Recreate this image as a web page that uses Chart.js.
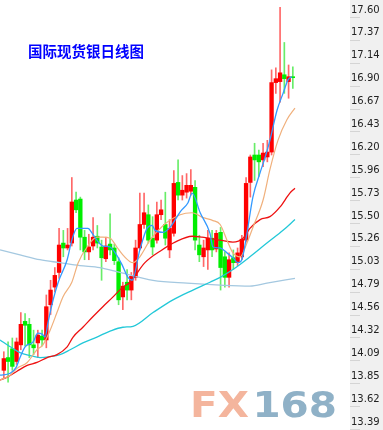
<!DOCTYPE html>
<html>
<head>
<meta charset="utf-8">
<script src="https://cdn.jsdelivr.net/npm/chart.js@4.4.0/dist/chart.umd.min.js"></script>
<style>
    html, body { margin: 0; padding: 0; background: #fff; }
</style>
</head>
<body>
<canvas id="kline" width="383" height="430"></canvas>
<script>
const chartTitle = '国际现货银日线图';

// right axis labels, top to bottom
const tickLabels = ['17.60', '17.37', '17.14', '16.90', '16.67', '16.43', '16.20', '15.96', '15.73', '15.50',
    '15.26', '15.03', '14.79', '14.56', '14.32', '14.09', '13.85', '13.62', '13.39'];

// daily candles, oldest first
const openP = [14.00, 14.13, 14.22, 14.09, 14.26, 14.50, 14.47, 14.26, 14.28, 14.35,
    14.31, 14.67, 14.85, 15.00, 15.30, 15.25, 15.30, 15.74, 15.75, 15.36,
    15.21, 15.27, 15.37, 15.26, 15.14, 15.29, 15.25, 15.11, 14.75, 14.90,
    14.82, 14.95, 15.25, 15.49, 15.59, 15.35, 15.33, 15.59, 15.49, 15.23,
    15.40, 15.92, 15.79, 15.82, 15.83, 15.87, 15.28, 15.16, 15.23, 15.35,
    15.24, 15.41, 15.16, 14.95, 15.15, 15.10, 15.16, 15.33, 15.92, 16.20,
    16.20, 16.15, 16.18, 16.23, 16.94, 16.95, 17.02, 16.95, 17.00];
const highP = [14.19, 14.29, 14.33, 14.33, 14.59, 14.58, 14.53, 14.41, 14.41, 14.41,
    14.77, 14.92, 15.05, 15.45, 15.43, 15.45, 15.97, 15.82, 15.77, 15.43,
    15.39, 15.56, 15.48, 15.33, 15.36, 15.60, 15.29, 15.15, 14.90, 15.03,
    15.00, 15.33, 15.81, 15.81, 15.69, 15.57, 15.72, 15.74, 15.82, 15.54,
    16.04, 16.15, 15.99, 16.01, 16.05, 15.94, 15.38, 15.33, 15.43, 15.43,
    15.43, 15.46, 15.21, 15.20, 15.23, 15.25, 15.38, 15.97, 16.20, 16.32,
    16.25, 16.32, 16.35, 17.07, 17.09, 17.71, 17.35, 17.12, 17.10];
const lowP = [13.92, 13.88, 14.00, 14.06, 14.21, 14.25, 14.13, 14.16, 14.13, 14.25,
    14.23, 14.57, 14.80, 14.94, 15.16, 15.23, 15.27, 15.61, 15.23, 15.13,
    15.13, 15.23, 15.25, 14.92, 15.11, 15.18, 15.08, 14.67, 14.62, 14.72,
    14.72, 14.92, 15.23, 15.45, 15.30, 15.18, 15.30, 15.54, 15.28, 15.15,
    15.37, 15.74, 15.74, 15.76, 15.79, 15.23, 15.11, 15.06, 15.03, 15.16,
    15.21, 14.82, 14.85, 14.85, 15.03, 15.07, 15.13, 15.31, 15.77, 15.94,
    15.98, 16.08, 16.13, 16.20, 16.83, 16.74, 16.83, 16.78, 16.88];
const closeP = [14.12, 14.09, 14.04, 14.29, 14.47, 14.46, 14.26, 14.23, 14.36, 14.31,
    14.65, 14.82, 14.97, 15.28, 15.25, 15.28, 15.72, 15.64, 15.36, 15.21,
    15.26, 15.36, 15.30, 15.15, 15.27, 15.23, 15.12, 14.72, 14.86, 14.82,
    14.96, 15.25, 15.49, 15.61, 15.33, 15.26, 15.59, 15.64, 15.35, 15.45,
    15.91, 15.79, 15.84, 15.89, 15.89, 15.33, 15.18, 15.25, 15.35, 15.23,
    15.40, 15.05, 14.95, 15.13, 15.10, 15.20, 15.34, 15.91, 16.18, 16.15,
    16.13, 16.22, 16.23, 16.94, 16.98, 17.04, 16.98, 17.00, 16.99];

// moving averages: [candle position, price]
const ma5 = [[-0.9, 13.95], [1.5, 13.97], [2.9, 14.03], [3.8, 14.13], [5.0, 14.24], [6.9, 14.29], [8.0, 14.38],
    [9.0, 14.37], [9.7, 14.34], [10.4, 14.49], [11.6, 14.72], [12.8, 14.90], [14.9, 15.13], [16.0, 15.33],
    [17.2, 15.45], [19.8, 15.45], [20.8, 15.40], [21.9, 15.33], [23.3, 15.27], [25.0, 15.26], [26.2, 15.20],
    [27.8, 15.08], [29.2, 14.95], [30.2, 14.92], [32.0, 15.23], [33.7, 15.45], [34.9, 15.48], [35.6, 15.43],
    [37.5, 15.41], [39.1, 15.46], [41.5, 15.62], [43.3, 15.71], [44.3, 15.81], [46.2, 15.61], [48.5, 15.40],
    [49.2, 15.26], [50.9, 15.25], [52.5, 15.20], [53.9, 15.15], [55.1, 15.10], [56.0, 15.13], [57.2, 15.40],
    [58.6, 15.77], [60.3, 16.02], [61.5, 16.18], [62.6, 16.35], [64.3, 16.66], [65.7, 16.83], [66.9, 16.97],
    [67.8, 17.00]];
const ma10 = [[-0.9, 13.90], [1.5, 13.95], [3.1, 14.02], [5.5, 14.08], [7.8, 14.21], [9.2, 14.26], [10.9, 14.41],
    [12.5, 14.59], [13.9, 14.75], [16.0, 14.90], [17.5, 15.10], [19.6, 15.26], [21.9, 15.36], [23.3, 15.36],
    [25.0, 15.35], [26.6, 15.26], [28.0, 15.18], [29.7, 15.11], [30.4, 15.10], [32.0, 15.16], [34.4, 15.33],
    [37.5, 15.48], [41.5, 15.59], [44.3, 15.61], [46.9, 15.56], [49.2, 15.53], [50.9, 15.49], [52.5, 15.33],
    [53.9, 15.20], [55.6, 15.16], [57.2, 15.30], [58.6, 15.46], [61.0, 15.74], [62.6, 16.05], [64.5, 16.35],
    [66.6, 16.56], [68.5, 16.68]];
const ma20 = [[-0.9, 13.90], [0.8, 13.93], [3.1, 13.99], [5.5, 14.05], [7.8, 14.08], [10.2, 14.13], [12.5, 14.16],
    [14.9, 14.24], [16.3, 14.34], [18.6, 14.44], [21.0, 14.55], [23.3, 14.65], [25.7, 14.75], [28.0, 14.85],
    [29.7, 14.90], [33.2, 15.10], [37.2, 15.23], [40.3, 15.31], [44.3, 15.37], [46.6, 15.36], [50.9, 15.33],
    [53.9, 15.31], [56.3, 15.35], [57.9, 15.45], [60.3, 15.54], [62.6, 15.57], [65.0, 15.67], [67.3, 15.81],
    [68.5, 15.86]];
const ma60 = [[-0.9, 14.31], [1.5, 14.24], [3.8, 14.18], [6.2, 14.15], [8.5, 14.13], [10.9, 14.14], [13.2, 14.16],
    [15.6, 14.21], [18.6, 14.28], [21.9, 14.34], [25.0, 14.40], [28.0, 14.44], [30.4, 14.45], [35.1, 14.59],
    [39.8, 14.72], [44.5, 14.82], [48.5, 14.90], [50.9, 14.95], [53.9, 15.03], [57.9, 15.16], [61.9, 15.30],
    [65.7, 15.43], [68.5, 15.54]];
const ma120 = [[-0.9, 15.23], [3.8, 15.18], [8.5, 15.13], [13.2, 15.10], [17.9, 15.07], [22.6, 15.05], [27.3, 15.00],
    [35.1, 14.92], [43.1, 14.89], [50.9, 14.87], [57.9, 14.86], [61.9, 14.89], [68.5, 14.94]];

const upColor = '#ff0000';
const downColor = '#00ee00';

const yMin = 13.39;
const yMax = 17.784;
const tickStep = (17.60 - 13.39) / (tickLabels.length - 1);

const isUp = closeP.map((c, i) => c >= openP[i]);
const toPts = arr => arr.map(p => ({ x: p[0], y: p[1] }));

const lineSet = (data, color, width) => ({
    type: 'line',
    data: toPts(data),
    borderColor: color,
    borderWidth: width,
    pointRadius: 0,
    fill: false,
    cubicInterpolationMode: 'monotone',
    order: 0
});

const decorPlugin = {
    id: 'decor',
    beforeDraw(chart) {
        const { ctx, chartArea, scales } = chart;
        ctx.save();
        ctx.fillStyle = '#ffffff';
        ctx.fillRect(0, 0, chart.width, chart.height);
        ctx.fillStyle = '#f0f0f0';
        ctx.fillRect(chartArea.right, 0, chart.width - chartArea.right, chart.height);
        // short tick marks inside the axis panel
        ctx.fillStyle = '#d4d4d4';
        scales.y.ticks.forEach(t => {
            const py = Math.round(scales.y.getPixelForValue(t.value)) - 1;
            ctx.fillRect(chartArea.right, py, 10, 1);
        });
        ctx.restore();
    },
    beforeDatasetsDraw(chart) {
        const { ctx } = chart;
        ctx.save();
        // title
        ctx.fillStyle = '#0000ff';
        ctx.font = 'bold 14.5px "Noto Sans CJK SC"';
        ctx.textBaseline = 'middle';
        ctx.fillText(chartTitle, 28, 51);
        // watermark
        ctx.font = 'bold 35px "DejaVu Sans"';
        ctx.textBaseline = 'alphabetic';
        const w1 = ctx.measureText('FX').width;
        const w2 = ctx.measureText('168').width;
        const sx = 147 / (w1 + w2 + 3);
        ctx.translate(190, 417);
        ctx.scale(sx, 1);
        ctx.fillStyle = '#f4b59d';
        ctx.fillText('FX', 0, 0);
        ctx.fillStyle = '#8fb1c7';
        ctx.fillText('168', w1 + 3, 0);
        ctx.restore();
    }
};

new Chart(document.getElementById('kline'), {
    type: 'bar',
    data: {
        datasets: [
            lineSet(ma5, '#3399ff', 1.3),
            lineSet(ma10, '#f0b07c', 1.2),
            lineSet(ma20, '#ee1111', 1.3),
            lineSet(ma60, '#22c8d8', 1.3),
            lineSet(ma120, '#a4c8e0', 1.3),
            {
                type: 'bar',
                data: openP.map((o, i) => ({ x: i, y: [o, closeP[i]] })),
                backgroundColor: isUp.map(u => u ? upColor : downColor),
                barThickness: 3.7,
                minBarLength: 1,
                grouped: false,
                order: 1
            },
            {
                type: 'bar',
                data: openP.map((o, i) => ({ x: i, y: [lowP[i], highP[i]] })),
                backgroundColor: isUp.map(u => u ? 'rgba(255,40,40,0.7)' : 'rgba(40,230,40,0.7)'),
                barThickness: 1,
                grouped: false,
                order: 2
            }
        ]
    },
    options: {
        responsive: false,
        animation: false,
        layout: { padding: 0 },
        scales: {
            x: {
                type: 'linear',
                min: -0.9,
                max: 81.45,
                offset: false,
                display: false
            },
            y: {
                position: 'right',
                min: yMin,
                max: yMax,
                afterBuildTicks: s => {
                    s.ticks = tickLabels.map((_, k) => ({ value: 13.39 + k * tickStep }));
                },
                afterFit: s => {
                    s.width = 33;
                    s.paddingTop = 0;
                    s.paddingBottom = 0;
                },
                grid: { display: false, drawTicks: false, tickLength: 0 },
                border: { display: false },
                ticks: {
                    autoSkip: false,
                    padding: 1,
                    labelOffset: -8,
                    color: '#222',
                    font: { family: 'DejaVu Sans', size: 10 },
                    callback: (v, idx) => tickLabels[tickLabels.length - 1 - idx]
                }
            }
        },
        plugins: {
            legend: { display: false },
            tooltip: { enabled: false }
        }
    },
    plugins: [decorPlugin]
});
</script>
</body>
</html>
